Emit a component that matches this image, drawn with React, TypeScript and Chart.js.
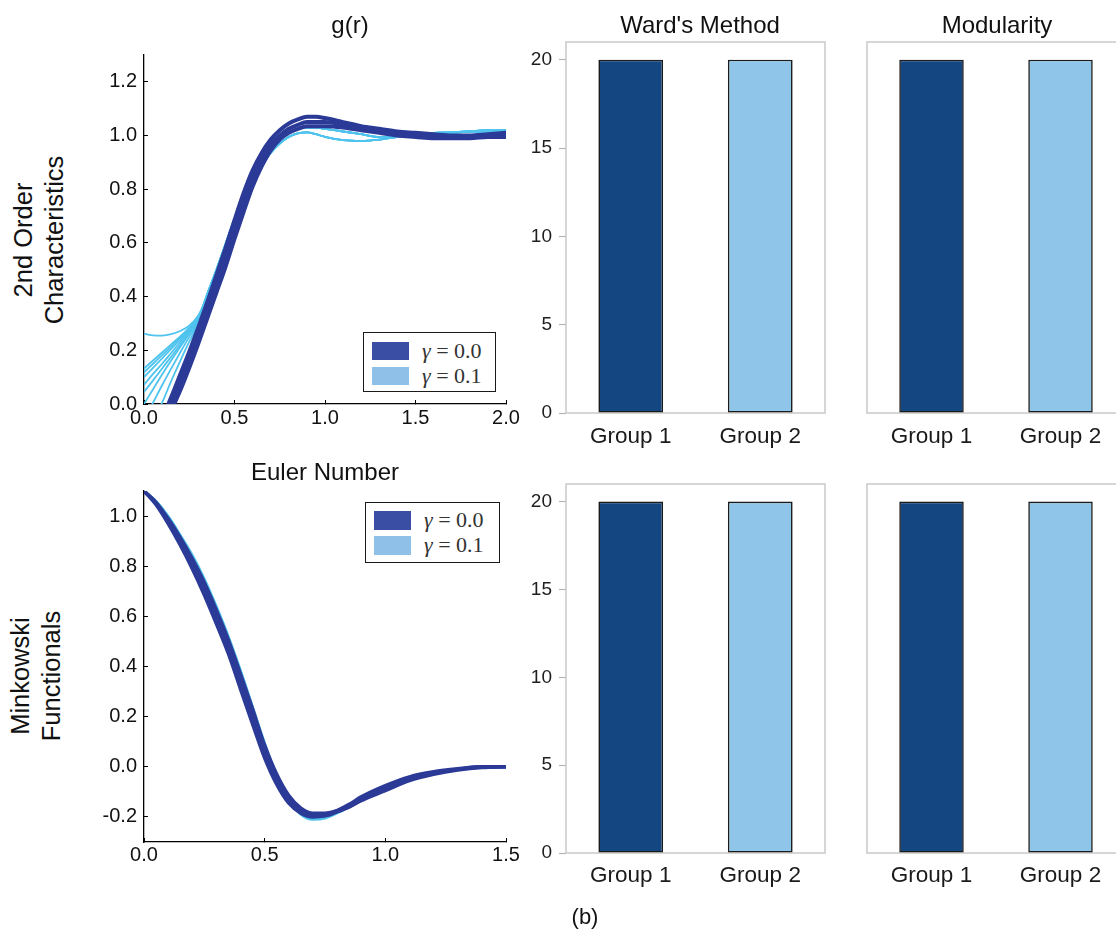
import React, { useEffect, useRef } from 'react';
import { Chart, registerables } from 'chart.js';

Chart.register(...registerables);

const SANS = '"Liberation Sans", Arial, Helvetica, sans-serif';
const SERIF = '"Liberation Serif", "Times New Roman", serif';
Chart.defaults.font.family = SANS;

// ---------------- data ----------------
// g(r) : gamma = 0.0 (dark bundle)
const grRDark = [0.1, 0.15, 0.2, 0.25, 0.3, 0.35, 0.4, 0.45, 0.5, 0.55, 0.6, 0.65, 0.7, 0.75, 0.8, 0.85, 0.9, 0.95, 1.0, 1.1, 1.2, 1.3, 1.4, 1.5, 1.6, 1.7, 1.8, 1.9, 2.0];
const grDark1 = [-0.08, 0.0, 0.08, 0.165, 0.255, 0.35, 0.445, 0.545, 0.65, 0.75, 0.84, 0.91, 0.965, 1.0, 1.025, 1.04, 1.05, 1.05, 1.05, 1.04, 1.03, 1.02, 1.01, 1.005, 1.0, 0.995, 0.995, 1.0, 1.0];
const grDark2 = [-0.055, 0.025, 0.11, 0.195, 0.285, 0.38, 0.48, 0.58, 0.685, 0.785, 0.87, 0.935, 0.985, 1.02, 1.045, 1.06, 1.07, 1.07, 1.065, 1.05, 1.035, 1.025, 1.015, 1.01, 1.005, 1.0, 1.0, 1.005, 1.01];
const grDark3 = [-0.105, -0.025, 0.05, 0.135, 0.225, 0.32, 0.415, 0.51, 0.615, 0.715, 0.81, 0.885, 0.945, 0.985, 1.01, 1.025, 1.035, 1.035, 1.035, 1.03, 1.02, 1.01, 1.0, 0.995, 0.99, 0.99, 0.99, 0.995, 0.995];

// g(r) : gamma = 0.1 (light lines) - starts differ, tails shared
const grRStart = [0, 0.05, 0.1, 0.15, 0.2, 0.25, 0.3];
const grLightA = [0.262, 0.256, 0.255, 0.26, 0.272, 0.292, 0.33];
const grLightB = [0.132, 0.162, 0.192, 0.222, 0.252, 0.285, 0.325];
const grLightC = [0.118, 0.15, 0.182, 0.214, 0.246, 0.28, 0.32];
const grLightD = [0.1, 0.135, 0.17, 0.205, 0.24, 0.278, 0.318];
const grLightE = [0.072, 0.112, 0.15, 0.19, 0.23, 0.272, 0.316];
const grLightF = [0.045, 0.088, 0.132, 0.176, 0.22, 0.265, 0.312];
const grLightG = [0.0, 0.055, 0.11, 0.162, 0.212, 0.262, 0.31];
const grLightH = [-0.06, 0.005, 0.07, 0.132, 0.192, 0.25, 0.305];
const grLightI = [-0.13, -0.06, 0.005, 0.085, 0.16, 0.232, 0.3];
const grRTail = [0.35, 0.4, 0.45, 0.5, 0.55, 0.6, 0.65, 0.7, 0.75, 0.8, 0.85, 0.9, 0.95, 1.0, 1.1, 1.2, 1.3, 1.4, 1.5, 1.6, 1.7, 1.8, 1.9, 2.0];
const grTailA = [0.4, 0.49, 0.58, 0.67, 0.755, 0.83, 0.885, 0.935, 0.97, 0.995, 1.008, 1.012, 1.005, 0.995, 0.983, 0.98, 0.985, 0.995, 1.005, 1.01, 1.012, 1.015, 1.015, 1.015];
const grTailB = [0.41, 0.5, 0.595, 0.69, 0.775, 0.85, 0.91, 0.955, 0.99, 1.012, 1.025, 1.03, 1.03, 1.025, 1.015, 1.005, 0.995, 0.995, 1.0, 1.005, 1.01, 1.015, 1.02, 1.02];

// Euler number
const euR = [0, 0.05, 0.1, 0.15, 0.2, 0.25, 0.3, 0.35, 0.4, 0.45, 0.5, 0.55, 0.6, 0.65, 0.7, 0.75, 0.8, 0.85, 0.9, 1.0, 1.1, 1.2, 1.3, 1.4, 1.5];
const euDark1 = [1.1, 1.05, 0.98, 0.9, 0.81, 0.71, 0.6, 0.48, 0.34, 0.2, 0.06, -0.05, -0.13, -0.175, -0.195, -0.195, -0.18, -0.16, -0.13, -0.085, -0.045, -0.025, -0.01, 0.0, 0.0];
const euDark2 = [1.1, 1.045, 0.97, 0.885, 0.79, 0.685, 0.57, 0.45, 0.31, 0.17, 0.035, -0.07, -0.145, -0.185, -0.2, -0.195, -0.175, -0.15, -0.12, -0.075, -0.04, -0.02, -0.008, 0.0, 0.0];
const euDark3 = [1.1, 1.055, 0.99, 0.915, 0.83, 0.735, 0.625, 0.505, 0.37, 0.23, 0.085, -0.03, -0.115, -0.165, -0.185, -0.185, -0.175, -0.16, -0.135, -0.095, -0.055, -0.03, -0.013, -0.003, 0.0];
const euLight1 = [1.1, 1.06, 1.0, 0.925, 0.845, 0.75, 0.64, 0.52, 0.385, 0.24, 0.095, -0.035, -0.13, -0.19, -0.21, -0.205, -0.185, -0.16, -0.13, -0.09, -0.05, -0.028, -0.012, -0.003, 0.0];
const euLight2 = [1.1, 1.058, 0.995, 0.92, 0.838, 0.742, 0.632, 0.512, 0.378, 0.235, 0.09, -0.04, -0.125, -0.182, -0.205, -0.2, -0.182, -0.158, -0.128, -0.088, -0.048, -0.027, -0.011, -0.002, 0.0];

// ticks
const grTicksX = [0, 0.5, 1.0, 1.5, 2.0];
const grTicksY = [0, 0.2, 0.4, 0.6, 0.8, 1.0, 1.2];
const euTicksX = [0, 0.5, 1.0, 1.5];
const euTicksY = [-0.2, 0, 0.2, 0.4, 0.6, 0.8, 1.0];
const barTicksY = [0, 5, 10, 15, 20];

// bars
const groups = ['Group 1', 'Group 2'];
const wardTop = [20, 20];
const modularityTop = [20, 20];
const wardBottom = [20, 20];
const modularityBottom = [20, 20];

const legendLabels = ['0.0', '0.1'];

// ---------------- styles ----------------
const LINE_DARK = '#2c3a97';
const LINE_LIGHT = '#4ec3ee';
const PATCH_DARK = '#3a4fa3';
const PATCH_LIGHT = '#8ec0e8';
const BAR_DARK = '#144682';
const BAR_LIGHT = '#8fc5e9';

const pts = (xs: number[], ys: number[]) => xs.map((x, i) => ({ x, y: ys[i] }));

const lineDs = (xs: number[], ys: number[], color: string, width: number) => ({
  data: pts(xs, ys),
  borderColor: color,
  borderWidth: width,
  pointRadius: 0,
  fill: false,
});

const lightGr = (start: number[], tail: number[]) =>
  lineDs([...grRStart, ...grRTail], [...start, ...tail], LINE_LIGHT, 1.8);

const framePlugin = {
  id: 'frameBox',
  beforeDatasetsDraw(chart: any, _args: any, opts: any) {
    const { ctx, chartArea: a } = chart;
    ctx.save();
    ctx.strokeStyle = opts.color || '#c8c8c8';
    ctx.lineWidth = opts.width || 1.5;
    ctx.strokeRect(a.left, a.top, a.right - a.left, a.bottom - a.top);
    ctx.restore();
  },
};

function lineConfig(datasets: any[], o: any) {
  return {
    type: 'line',
    data: { datasets },
    options: {
      animation: false,
      responsive: false,
      maintainAspectRatio: false,
      events: [],
      layout: { padding: { top: o.padTop, right: o.padRight, left: 0, bottom: 0 } },
      plugins: { legend: { display: false }, tooltip: { enabled: false }, title: { display: false } },
      elements: { point: { radius: 0 }, line: { cubicInterpolationMode: 'monotone', borderCapStyle: 'round', borderJoinStyle: 'round' } },
      scales: {
        x: {
          type: 'linear',
          min: o.xMin,
          max: o.xMax,
          afterBuildTicks: (s: any) => { s.ticks = o.xTicks.map((v: number) => ({ value: v })); },
          afterFit: (s: any) => { s.height = o.xAxisH; },
          grid: { drawOnChartArea: false, drawTicks: true, tickLength: -4, tickColor: '#000', tickWidth: 1 },
          border: { display: true, color: '#000', width: 1.3 },
          ticks: { padding: o.xPad, autoSkip: false, maxRotation: 0, color: '#111', font: { size: 20 }, callback: (v: any) => Number(v).toFixed(1) },
        },
        y: {
          type: 'linear',
          min: o.yMin,
          max: o.yMax,
          afterBuildTicks: (s: any) => { s.ticks = o.yTicks.map((v: number) => ({ value: v })); },
          afterFit: (s: any) => { s.width = o.yAxisW; },
          grid: { drawOnChartArea: false, drawTicks: true, tickLength: -4, tickColor: '#000', tickWidth: 1 },
          border: { display: true, color: '#000', width: 1.3 },
          ticks: { padding: 11, autoSkip: false, color: '#111', font: { size: 20 }, callback: (v: any) => Number(v).toFixed(1) },
        },
      },
    },
  };
}

function barConfig(values: number[], o: any) {
  return {
    type: 'bar',
    data: {
      labels: groups,
      datasets: [{
        data: values,
        backgroundColor: [BAR_DARK, BAR_LIGHT],
        borderColor: '#1b1b1b',
        borderWidth: 1.6,
        borderSkipped: false,
        barPercentage: 1,
        categoryPercentage: 0.5,
      }],
    },
    plugins: [framePlugin],
    options: {
      animation: false,
      responsive: false,
      maintainAspectRatio: false,
      events: [],
      layout: { padding: { top: o.padTop, right: o.padRight, left: 0, bottom: 0 } },
      plugins: { legend: { display: false }, tooltip: { enabled: false }, title: { display: false }, frameBox: { color: '#c9c9c9', width: 1.5 } },
      scales: {
        x: {
          afterFit: (s: any) => { s.height = o.xAxisH; },
          grid: { display: false, drawTicks: false },
          border: { display: false },
          ticks: { padding: o.xPad, color: '#1a1a1a', font: { size: 22.5 } },
        },
        y: {
          min: 0,
          max: 21,
          afterBuildTicks: (s: any) => { s.ticks = barTicksY.map((v) => ({ value: v })); },
          afterFit: (s: any) => { s.width = o.yAxisW; },
          grid: { drawOnChartArea: false, drawTicks: o.showY, tickLength: 7, tickColor: '#b3b3b3', tickWidth: 1.2 },
          border: { display: false },
          ticks: { display: o.showY, padding: 7, color: '#1e1e1e', font: { size: 19 } },
        },
      },
    },
  };
}

function ChartBox({ left, top, width, height, make }: any) {
  const ref = useRef<HTMLCanvasElement>(null);
  useEffect(() => {
    const chart = new Chart(ref.current as HTMLCanvasElement, make());
    return () => chart.destroy();
  }, []);
  return (
    <canvas
      ref={ref}
      width={width}
      height={height}
      style={{ position: 'absolute', left, top, width, height }}
    />
  );
}

function Text({ cx, cy, size, children, rotate, lineHeight }: any) {
  return (
    <div
      style={{
        position: 'absolute',
        left: cx,
        top: cy,
        transform: `translate(-50%, -50%)${rotate ? ' rotate(-90deg)' : ''}`,
        font: `${size}px ${SANS}`,
        lineHeight: lineHeight ? `${lineHeight}px` : 'normal',
        color: '#111',
        whiteSpace: 'nowrap',
        textAlign: 'center',
      }}
    >
      {children}
    </div>
  );
}

function Legend({ left, top, width, height, patch, rows }: any) {
  const colors = [PATCH_DARK, PATCH_LIGHT];
  return (
    <div
      style={{
        position: 'absolute', left, top, width, height, boxSizing: 'border-box',
        border: '1.5px solid #1a1a1a', background: '#fff',
      }}
    >
      {legendLabels.map((lab, i) => (
        <React.Fragment key={lab}>
          <div style={{ position: 'absolute', left: patch.x, top: rows[i] - patch.h / 2, width: patch.w, height: patch.h, background: colors[i] }} />
          <div
            style={{
              position: 'absolute', left: patch.tx, top: rows[i], transform: 'translateY(-50%)',
              font: `22px ${SERIF}`, color: '#333', whiteSpace: 'nowrap',
            }}
          >
            <i>γ</i> = {lab}
          </div>
        </React.Fragment>
      ))}
    </div>
  );
}

export default function App() {
  const grDatasets = () => [
    lineDs(grRDark, grDark2, LINE_DARK, 4),
    lineDs(grRDark, grDark1, LINE_DARK, 4),
    lineDs(grRDark, grDark3, LINE_DARK, 4),
    lightGr(grLightA, grTailA),
    lightGr(grLightB, grTailB),
    lightGr(grLightC, grTailA),
    lightGr(grLightD, grTailB),
    lightGr(grLightE, grTailB),
    lightGr(grLightF, grTailA),
    lightGr(grLightG, grTailB),
    lightGr(grLightH, grTailB),
    lightGr(grLightI, grTailA),
  ];
  const euDatasets = () => [
    lineDs(euR, euDark1, LINE_DARK, 3.5),
    lineDs(euR, euDark2, LINE_DARK, 3.5),
    lineDs(euR, euDark3, LINE_DARK, 3.5),
    lineDs(euR, euLight1, LINE_LIGHT, 2.5),
    lineDs(euR, euLight2, LINE_LIGHT, 2.5),
  ];

  return (
    <div style={{ position: 'absolute', left: 0, top: 0, width: 1116, height: 930, overflow: 'hidden', background: '#fff' }}>
      <ChartBox left={90} top={30} width={440} height={410}
        make={() => lineConfig(grDatasets(), { padTop: 25, padRight: 24, yAxisW: 54, xAxisH: 36, xPad: 6, xMin: 0, xMax: 2, yMin: 0, yMax: 1.3, xTicks: grTicksX, yTicks: grTicksY })} />
      <ChartBox left={90} top={465} width={440} height={420}
        make={() => lineConfig(euDatasets(), { padTop: 26, padRight: 24, yAxisW: 54, xAxisH: 43, xPad: 5, xMin: 0, xMax: 1.5, yMin: -0.3, yMax: 1.1, xTicks: euTicksX, yTicks: euTicksY })} />

      <ChartBox left={500} top={20} width={340} height={440}
        make={() => barConfig(wardTop, { padTop: 22, padRight: 15, yAxisW: 66, xAxisH: 47, xPad: 10, showY: true })} />
      <ChartBox left={800} top={20} width={340} height={440}
        make={() => barConfig(modularityTop, { padTop: 22, padRight: 15, yAxisW: 67, xAxisH: 47, xPad: 10, showY: false })} />
      <ChartBox left={500} top={462} width={340} height={440}
        make={() => barConfig(wardBottom, { padTop: 22, padRight: 15, yAxisW: 66, xAxisH: 49, xPad: 9, showY: true })} />
      <ChartBox left={800} top={462} width={340} height={440}
        make={() => barConfig(modularityBottom, { padTop: 22, padRight: 15, yAxisW: 67, xAxisH: 49, xPad: 9, showY: false })} />

      <Text cx={350} cy={25} size={24}>g(r)</Text>
      <Text cx={700} cy={25} size={24}>Ward's Method</Text>
      <Text cx={997} cy={25} size={24}>Modularity</Text>
      <Text cx={325} cy={472} size={24}>Euler Number</Text>
      <Text cx={585} cy={917} size={22}>(b)</Text>

      <Text cx={39} cy={240} size={25.5} rotate lineHeight={31}>2nd Order<br />Characteristics</Text>
      <Text cx={36} cy={676} size={25.5} rotate lineHeight={31}>Minkowski<br />Functionals</Text>

      <Legend left={363} top={332} width={133} height={60} patch={{ x: 8, w: 37, h: 18, tx: 58 }} rows={[18, 43]} />
      <Legend left={365} top={502} width={135} height={61} patch={{ x: 8, w: 37, h: 19, tx: 58 }} rows={[17, 42]} />
    </div>
  );
}
